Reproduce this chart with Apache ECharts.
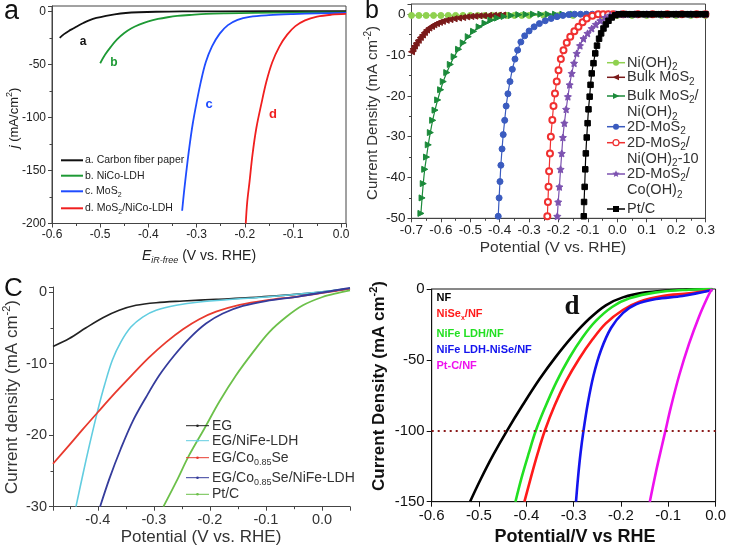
<!DOCTYPE html>
<html><head><meta charset="utf-8">
<script src="https://cdn.jsdelivr.net/npm/echarts@6/dist/echarts.min.js"></script>
<style>html,body{margin:0;padding:0;background:#fff}#c{width:729px;height:552px}</style>
</head><body><div id="c"></div><script>
// ---------- Panel a ----------
const aCarbon = [[-0.584,-25],[-0.575,-21.5],[-0.565,-18.5],[-0.555,-16],[-0.545,-13.3],[-0.535,-11],[-0.523,-8.6],[-0.508,-6.3],[-0.488,-4.2],[-0.47,-2.8],[-0.447,-1.6],[-0.42,-0.9],[-0.384,-0.4],[-0.33,-0.1],[-0.25,0],[0.01,0.2]];
const aNiCo = [[-0.5,-49],[-0.49,-41],[-0.478,-33.5],[-0.465,-26.5],[-0.45,-20.5],[-0.435,-16],[-0.419,-12.6],[-0.4,-9.5],[-0.38,-7.2],[-0.36,-5.6],[-0.34,-4.4],[-0.31,-3.3],[-0.28,-2.4],[-0.24,-1.9],[-0.18,-1.5],[-0.1,-1.2],[0.01,-1.0]];
const aMoS2 = [[-0.330,-188],[-0.326,-170],[-0.321,-150],[-0.315,-128],[-0.308,-106],[-0.300,-86],[-0.291,-66],[-0.281,-48],[-0.268,-33],[-0.252,-21],[-0.235,-13],[-0.215,-8],[-0.19,-5.2],[-0.15,-3.6],[-0.1,-2.6],[-0.05,-2],[0.01,-1.5]];
const aMoS2NiCo = [[-0.198,-200],[-0.195,-180],[-0.19,-160],[-0.184,-135],[-0.176,-110],[-0.166,-88],[-0.155,-66],[-0.143,-48],[-0.128,-33],[-0.112,-22],[-0.095,-14],[-0.075,-8.5],[-0.05,-5],[-0.02,-3.2],[0.01,-2.5]];

// ---------- Panel b ----------
const bNiOH2 = [[-0.7,-0.3],[-0.675,-0.3],[-0.65,-0.3],[-0.625,-0.3],[-0.6,-0.3],[-0.575,-0.3],[-0.55,-0.3],[-0.525,-0.3],[-0.5,-0.3],[-0.475,-0.3],[-0.45,-0.3],[-0.425,-0.3],[-0.4,-0.3],[-0.375,-0.3],[-0.35,-0.3],[-0.325,-0.3],[-0.3,-0.3],[-0.25,-0.3],[-0.2,-0.3],[-0.15,-0.3],[-0.1,-0.3],[-0.05,-0.3],[0,-0.3],[0.05,-0.3],[0.1,-0.3],[0.15,-0.3],[0.2,-0.3],[0.25,-0.3],[0.3,-0.3]];
const bBulkMoS2 = [[-0.7,-9.2],[-0.695,-8.5],[-0.69,-7.8],[-0.684,-7.1],[-0.677,-6.4],[-0.670,-5.7],[-0.663,-5.1],[-0.656,-4.5],[-0.649,-3.9],[-0.641,-3.4],[-0.632,-3.0],[-0.624,-2.6],[-0.615,-2.3],[-0.605,-2.0],[-0.595,-1.75],[-0.582,-1.5],[-0.569,-1.3],[-0.555,-1.1],[-0.54,-0.95],[-0.526,-0.8],[-0.512,-0.65],[-0.498,-0.55],[-0.485,-0.48],[-0.47,-0.4],[-0.455,-0.35],[-0.438,-0.3],[-0.421,-0.25],[-0.405,-0.22],[-0.39,-0.2]];
const bBulkMoS2NiOH2 = [[-0.668,-48.8],[-0.664,-45],[-0.660,-41.5],[-0.655,-38],[-0.649,-35],[-0.643,-32],[-0.636,-29],[-0.628,-26],[-0.620,-23.5],[-0.611,-21],[-0.601,-18.5],[-0.592,-16.5],[-0.580,-14.3],[-0.568,-12.3],[-0.555,-10.4],[-0.540,-8.6],[-0.524,-7],[-0.507,-5.5],[-0.489,-4.2],[-0.470,-3.1],[-0.450,-2.2],[-0.430,-1.5],[-0.408,-0.95],[-0.385,-0.55],[-0.36,-0.3],[-0.335,-0.12],[-0.31,-0.05],[-0.285,0],[-0.26,0],[-0.235,0],[-0.21,0],[-0.185,0],[-0.15,0],[-0.1,0],[-0.05,0],[0,0],[0.05,0],[0.1,0],[0.15,0],[0.2,0],[0.25,0],[0.3,0]];
const b2DMoS2 = [[-0.405,-49.5],[-0.402,-45],[-0.399,-41],[-0.396,-37],[-0.392,-33],[-0.388,-29.5],[-0.383,-26],[-0.378,-22.5],[-0.372,-19.5],[-0.365,-16.5],[-0.357,-13.5],[-0.348,-11],[-0.339,-8.8],[-0.328,-6.8],[-0.315,-5.3],[-0.300,-4.1],[-0.283,-3.1],[-0.265,-2.3],[-0.245,-1.6],[-0.225,-1.05],[-0.205,-0.6],[-0.185,-0.3],[-0.165,-0.1],[-0.145,0],[-0.125,0],[-0.105,0],[-0.085,0],[-0.065,0],[-0.03,0],[0.02,0],[0.07,0],[0.12,0],[0.17,0],[0.22,0],[0.27,0],[0.3,0]];
const b2DNiOH2 = [[-0.238,-49.5],[-0.236,-46],[-0.234,-42.3],[-0.232,-38.5],[-0.229,-34.1],[-0.226,-30],[-0.221,-25.9],[-0.217,-22.5],[-0.212,-19.4],[-0.206,-16.5],[-0.200,-13.7],[-0.192,-11],[-0.183,-8.8],[-0.172,-7],[-0.160,-5.5],[-0.146,-4.2],[-0.132,-3.1],[-0.118,-2],[-0.104,-1.06],[-0.085,-0.4],[-0.065,0],[-0.048,0],[-0.031,0],[-0.014,0],[0.02,0],[0.07,0],[0.12,0],[0.17,0],[0.22,0],[0.27,0],[0.3,0]];
const b2DCoOH2 = [[-0.204,-49.5],[-0.201,-46],[-0.197,-42.3],[-0.193,-38],[-0.189,-34.1],[-0.185,-30.2],[-0.180,-26.7],[-0.174,-23.3],[-0.168,-20.2],[-0.162,-17.3],[-0.155,-14.5],[-0.147,-12],[-0.138,-9.6],[-0.127,-7.7],[-0.115,-6.0],[-0.101,-4.7],[-0.087,-3.5],[-0.073,-2.5],[-0.058,-1.6],[-0.041,-0.8],[-0.024,-0.25],[-0.005,0],[0.012,0],[0.03,0],[0.06,0],[0.1,0],[0.15,0],[0.2,0],[0.25,0],[0.3,0]];
const bPtC = [[-0.114,-49.5],[-0.113,-46],[-0.111,-42.3],[-0.109,-38],[-0.107,-34.1],[-0.104,-30.2],[-0.101,-26.7],[-0.098,-23.3],[-0.094,-20.2],[-0.091,-17.3],[-0.087,-14.5],[-0.081,-12],[-0.075,-9.6],[-0.069,-7.7],[-0.062,-6.0],[-0.055,-4.7],[-0.047,-3.5],[-0.039,-2.5],[-0.030,-1.6],[-0.019,-0.8],[-0.007,-0.25],[0.005,0],[0.02,0],[0.035,0],[0.05,0],[0.065,0],[0.08,0],[0.095,0],[0.11,0],[0.125,0],[0.14,0],[0.155,0],[0.17,0],[0.185,0],[0.2,0],[0.215,0],[0.23,0],[0.245,0],[0.26,0],[0.275,0],[0.29,0],[0.3,0]];

// ---------- Panel c ----------
const cEG = [[-0.48,-7.6],[-0.451,-6.5],[-0.421,-5.0],[-0.391,-3.6],[-0.362,-2.56],[-0.332,-1.86],[-0.296,-1.49],[-0.248,-1.26],[-0.189,-1.02],[-0.129,-0.79],[-0.07,-0.47],[-0.01,-0.09],[0.05,0.47]];
const cNiFe = [[-0.439,-30],[-0.427,-25.6],[-0.415,-21.4],[-0.400,-16.5],[-0.388,-13.0],[-0.374,-9.5],[-0.359,-7.0],[-0.341,-4.9],[-0.320,-3.5],[-0.296,-2.56],[-0.260,-1.86],[-0.219,-1.40],[-0.159,-1.02],[-0.100,-0.70],[-0.040,-0.28],[0.05,0.47]];
const cCoSe = [[-0.48,-24],[-0.451,-21.4],[-0.427,-19.2],[-0.400,-16.8],[-0.368,-14.0],[-0.338,-11.5],[-0.308,-9.1],[-0.278,-7.0],[-0.248,-5.2],[-0.219,-3.8],[-0.189,-2.75],[-0.147,-1.8],[-0.100,-1.16],[-0.040,-0.60],[0.05,0.47]];
const cCoSeNiFe = [[-0.396,-30],[-0.379,-26.0],[-0.359,-21.9],[-0.338,-18.1],[-0.314,-14.7],[-0.290,-11.6],[-0.263,-8.8],[-0.237,-6.5],[-0.207,-4.4],[-0.177,-3.0],[-0.141,-1.95],[-0.100,-1.26],[-0.040,-0.60],[0.05,0.56]];
const cPtC = [[-0.283,-30],[-0.260,-26.5],[-0.237,-22.8],[-0.210,-19.1],[-0.183,-15.3],[-0.153,-11.6],[-0.123,-8.4],[-0.094,-5.6],[-0.064,-3.5],[-0.034,-1.86],[0.001,-0.70],[0.031,-0.09],[0.05,0.23]];

// ---------- Panel d ----------
const dNF = [[-0.519,-150],[-0.497,-134.5],[-0.470,-117],[-0.441,-100],[-0.407,-81.5],[-0.372,-63.5],[-0.337,-47.5],[-0.302,-33.2],[-0.267,-21],[-0.232,-11.5],[-0.196,-5.9],[-0.147,-2.4],[-0.077,-0.5],[-0.007,0]];
const dNiSe = [[-0.404,-150],[-0.390,-132.5],[-0.376,-116],[-0.361,-100],[-0.340,-82],[-0.316,-65],[-0.288,-49],[-0.260,-35.5],[-0.232,-24.2],[-0.196,-14.8],[-0.161,-8.9],[-0.112,-4.9],[-0.056,-3.1],[-0.007,-0.7]];
const dNiFe = [[-0.423,-150],[-0.410,-133],[-0.395,-116],[-0.380,-100],[-0.361,-84],[-0.337,-66],[-0.309,-48.5],[-0.281,-34],[-0.253,-22.5],[-0.218,-12.5],[-0.182,-6.6],[-0.126,-2.4],[-0.056,-0.5],[-0.007,0]];
const dNiFeNiSe = [[-0.295,-150],[-0.291,-134],[-0.2855,-116],[-0.279,-99.5],[-0.270,-80.5],[-0.258,-61],[-0.242,-43],[-0.221,-27.5],[-0.196,-17],[-0.168,-10.8],[-0.126,-7.1],[-0.070,-4.9],[-0.007,-0.7]];
const dPtC = [[-0.139,-150],[-0.126,-129],[-0.113,-110],[-0.106,-100],[-0.095,-84],[-0.077,-61],[-0.056,-38.5],[-0.035,-19.5],[-0.018,-6.5],[-0.008,0]];
const dRefLevel = -100;

// ---------- rendering ----------
const F = 'Liberation Sans, Arial, sans-serif';
const chart = echarts.init(document.getElementById('c'), null, {renderer:'canvas'});

function fmtDec(v){ const r = Math.round(v*10); return Math.abs(v*10 - r) < 1e-6 ? (r/10 === 0 ? '0.0' : (r/10).toFixed(1)) : ''; }
function fmtInt(step){ return v => Math.abs(v/step - Math.round(v/step)) < 1e-6 ? String(Math.round(v)) : ''; }

function ax(grid, min, max, opts){
  const o = Object.assign({color:'#333', size:12, family:F, fmt:null, interval:null, minor:2, tickLen:4, margin:5, labelColor:'#222', weight:'normal'}, opts||{});
  const a = {
    gridIndex:grid, type:'value', min, max,
    axisLine:{show:true, onZero:false, lineStyle:{color:o.color, width:1}},
    axisTick:{show:true, inside:false, length:o.tickLen, lineStyle:{color:o.color}},
    minorTick:{show:o.minor>0, splitNumber:o.minor||2, length:2.5, lineStyle:{color:o.color}},
    splitLine:{show:false}, minorSplitLine:{show:false},
    axisLabel:{color:o.labelColor, fontSize:o.size, fontFamily:o.family, fontWeight:o.weight, margin:o.margin, formatter:o.fmt}
  };
  if (o.interval) a.interval = o.interval; else a.splitNumber = 5;
  return a;
}

function line(xi, data, color, w, extra){
  return Object.assign({type:'line', xAxisIndex:xi, yAxisIndex:xi, data, showSymbol:false, symbol:'none',
    smooth:0.35, lineStyle:{color, width:w, join:'round'}, itemStyle:{color}, animation:false, silent:true}, extra||{});
}
function mline(data, color, symbol, extra){
  return Object.assign({type:'line', xAxisIndex:1, yAxisIndex:1, data, symbol, symbolSize:6, showSymbol:true, showAllSymbol:true,
    smooth:0.3, lineStyle:{color, width:1.2}, itemStyle:{color, borderColor:color, borderWidth:1}, animation:false, silent:true}, extra||{});
}
const starPath = 'path://M0,-10L2.9,-4L9.5,-3.1L4.7,1.5L5.9,8.1L0,5L-5.9,8.1L-4.7,1.5L-9.5,-3.1L-2.9,-4Z';

const cA = {k:'#111', g:'#1e9a35', b:'#1f4cff', r:'#f01f1f'};
const cB = {ni:'#8fd14f', bulk:'#7a1a1a', bulkNi:'#1b8a3a', mo:'#3a5bbf', moNi:'#f03030', moCo:'#7c52b0', pt:'#000'};
const cC = {eg:'#222', ni:'#62cde0', co:'#e83a2e', cn:'#353c9c', pt:'#6cc04a'};
const cD = {nf:'#000', nise:'#ff1a1a', nife:'#22e022', nn:'#1414ee', pt:'#ee11ee'};

function richSet(size, color, family, weight){
  const lh = Math.round(size*1.3), ss = Math.round(size*0.66);
  const base = {fontSize:size, fontFamily:family, fontWeight:weight, fill:color, color, lineHeight:lh};
  return {
    n: base,
    i: Object.assign({}, base, {fontStyle:'italic'}),
    s: {fontSize:ss, fontFamily:family, fontWeight:weight, fill:color, color, verticalAlign:'bottom', lineHeight:ss+1},
    si:{fontSize:ss, fontFamily:family, fontWeight:weight, fontStyle:'italic', fill:color, color, verticalAlign:'bottom', lineHeight:ss+1},
    p: {fontSize:ss, fontFamily:family, fontWeight:weight, fill:color, color, verticalAlign:'top', lineHeight:ss+1}
  };
}
function T(x, y, text, size, color, o){
  o = o || {};
  const fam = o.family || F, wt = o.weight || 'normal';
  return {type:'text', x, y, rotation:o.rot||0, z:100, silent:true,
    style:{text, rich:richSet(size, color, fam, wt), fill:color, fontSize:size, fontFamily:fam, fontWeight:wt,
      fontStyle:o.style||'normal', align:o.align||'left', verticalAlign:'middle'}};
}
function L(x1, y1, x2, y2, color, w){ return {type:'line', z:100, silent:true, shape:{x1,y1,x2,y2}, style:{stroke:color, lineWidth:w}}; }
function sym(kind, cx, cy, color){
  const r = 3;
  if (kind==='circle') return {type:'circle', z:101, silent:true, shape:{cx,cy,r}, style:{fill:color}};
  if (kind==='ecircle') return {type:'circle', z:101, silent:true, shape:{cx,cy,r}, style:{fill:'#fff', stroke:color, lineWidth:1.2}};
  if (kind==='rect') return {type:'rect', z:101, silent:true, shape:{x:cx-r,y:cy-r,width:2*r,height:2*r}, style:{fill:color}};
  if (kind==='triL') return {type:'polygon', z:101, silent:true, shape:{points:[[cx-r-0.5,cy],[cx+r,cy-r],[cx+r,cy+r]]}, style:{fill:color}};
  if (kind==='triR') return {type:'polygon', z:101, silent:true, shape:{points:[[cx+r+0.5,cy],[cx-r,cy-r],[cx-r,cy+r]]}, style:{fill:color}};
  if (kind==='star'){ const pts=[]; for(let k=0;k<10;k++){ const ang=-Math.PI/2+k*Math.PI/5, rr=k%2?1.7:3.8; pts.push([cx+rr*Math.cos(ang), cy+rr*Math.sin(ang)]);} return {type:'polygon', z:101, silent:true, shape:{points:pts}, style:{fill:color}}; }
  if (kind==='dot') return {type:'circle', z:101, silent:true, shape:{cx,cy,r:1.3}, style:{fill:color}};
}

const g = [];
g.push(T(4, 12, 'a', 27, '#111'));
g.push(T(365, 11, 'b', 25, '#111'));
g.push(T(4, 289, 'C', 26, '#111'));
g.push(T(83, 42, 'a', 12, cA.k, {weight:'bold', align:'center'}));
g.push(T(114, 63, 'b', 12, cA.g, {weight:'bold', align:'center'}));
g.push(T(209, 104, 'c', 13, cA.b, {weight:'bold', align:'center'}));
g.push(T(273, 114, 'd', 13, cA.r, {weight:'bold', align:'center'}));
[[160.3, cA.k, '{n|a. Carbon fiber paper}'],[175.7, cA.g, '{n|b. NiCo-LDH}'],[191.3, cA.b, '{n|c. MoS}{s|2}'],[208.3, cA.r, '{n|d. MoS}{s|2}{n|/NiCo-LDH}']].forEach(it => {
  g.push(L(61, it[0], 83, it[0], it[1], 2));
  g.push(T(85, it[0], it[2], 10.5, '#222'));
});
g.push(T(14, 118, '{i|j}{n| (mA/cm}{p|2}{n|)}', 13, '#222', {rot:Math.PI/2, align:'center'}));
g.push(T(199, 256, '{i|E}{si|iR-free}{n| (V vs. RHE)}', 14, '#222', {align:'center'}));

const bLeg = [
  [62.7, 'circle', cB.ni, ['{n|Ni(OH)}{s|2}']],
  [77.3, 'triL', cB.bulk, ['{n|Bulk MoS}{s|2}']],
  [96, 'triR', cB.bulkNi, ['{n|Bulk MoS}{s|2}{n|/}', '{n|Ni(OH)}{s|2}']],
  [126.7, 'circle', cB.mo, ['{n|2D-MoS}{s|2}']],
  [142.7, 'ecircle', cB.moNi, ['{n|2D-MoS}{s|2}{n|/}', '{n|Ni(OH)}{s|2}{n|-10}']],
  [174, 'star', cB.moCo, ['{n|2D-MoS}{s|2}{n|/}', '{n|Co(OH)}{s|2}']],
  [209, 'rect', cB.pt, ['{n|Pt/C}']]
];
bLeg.forEach(it => {
  g.push(L(607, it[0], 625, it[0], it[2], 1.5));
  g.push(sym(it[1], 616, it[0], it[2]));
  it[3].forEach((t, k) => g.push(T(627, it[0] + k*16.3, t, 14.5, '#333')));
});
g.push(T(373, 113, '{n|Current Density (mA cm}{p|-2}{n|)}', 15, '#333', {rot:Math.PI/2, align:'center'}));
g.push(T(553, 248, 'Potential (V vs. RHE)', 15.5, '#333', {align:'center'}));

[[425.7, cC.eg, '{n|EG}'],[440.7, cC.ni, '{n|EG/NiFe-LDH}'],[457.7, cC.co, '{n|EG/Co}{s|0.85}{n|Se}'],[477.7, cC.cn, '{n|EG/Co}{s|0.85}{n|Se/NiFe-LDH}'],[494.3, cC.pt, '{n|Pt/C}']].forEach(it => {
  g.push(L(186, it[0], 209, it[0], it[1], 1));
  g.push(sym('dot', 197.5, it[0], it[1]));
  g.push(T(212, it[0], it[2], 14, '#333'));
});
g.push(T(12, 397, '{n|Current density (mA cm}{p|-2}{n|)}', 17, '#333', {rot:Math.PI/2, align:'center'}));
g.push(T(201, 537, 'Potential (V vs. RHE)', 17, '#333', {align:'center'}));

[[297.7, cD.nf, '{n|NF}'],[314.3, cD.nise, '{n|NiSe}{s|x}{n|/NF}'],[334.3, cD.nife, '{n|NiFe LDH/NF}'],[350, cD.nn, '{n|NiFe LDH-NiSe/NF}'],[366, cD.pt, '{n|Pt-C/NF}']].forEach(it => {
  g.push(T(436.5, it[0], it[2], 11, it[1], {weight:'bold'}));
});
g.push(T(572, 307, 'd', 27, '#111', {family:'Liberation Serif, serif', weight:'bold', align:'center'}));
g.push(T(379, 386, '{n|Current Density (mA cm}{p|-2}{n|)}', 17, '#111', {rot:Math.PI/2, align:'center', weight:'bold'}));
g.push(T(575, 537, 'Potential/V vs RHE', 18, '#111', {align:'center', weight:'bold'}));

const option = {
  backgroundColor:'#fff', animation:false,
  grid:[
    {left:52, top:6, width:294, height:217.5, show:true, borderColor:'#444', borderWidth:1, backgroundColor:'transparent'},
    {left:411.5, top:4, width:294, height:214.3, show:true, borderColor:'#444', borderWidth:1, backgroundColor:'transparent'},
    {left:53, top:287, width:297, height:219.7, show:false},
    {left:431.7, top:289, width:285.5, height:212.7, show:true, borderColor:'#111', borderWidth:1, backgroundColor:'transparent'}
  ],
  xAxis:[
    ax(0, -0.6, 0.01, {interval:0.1, fmt:fmtDec, size:12, color:'#444', margin:5}),
    ax(1, -0.7, 0.3, {interval:0.1, fmt:fmtDec, size:13.5, color:'#444', margin:5}),
    ax(2, -0.48, 0.05, {fmt:fmtDec, size:14.5, color:'#444', margin:6, labelColor:'#333'}),
    ax(3, -0.6, 0, {interval:0.1, fmt:fmtDec, size:15, color:'#111', minor:0, tickLen:5, margin:7, labelColor:'#111'})
  ],
  yAxis:[
    ax(0, -200, 5, {interval:50, fmt:fmtInt(50), size:12, color:'#444', margin:6}),
    ax(1, -50, 2.5, {interval:10, fmt:fmtInt(10), size:13.5, color:'#444', margin:6}),
    ax(2, -30, 0.7, {interval:10, fmt:fmtInt(10), size:14.5, color:'#444', margin:6, labelColor:'#333'}),
    ax(3, -150, 0, {interval:50, fmt:fmtInt(50), size:15, color:'#111', minor:0, tickLen:5, margin:7, labelColor:'#111'})
  ],
  graphic:g,
  series:[
    line(0, aCarbon, cA.k, 1.8),
    line(0, aNiCo, cA.g, 1.8),
    line(0, aMoS2, cA.b, 1.8),
    line(0, aMoS2NiCo, cA.r, 1.8),

    mline(bNiOH2, cB.ni, 'circle'),
    mline(bBulkMoS2, cB.bulk, 'triangle', {symbolRotate:90}),
    mline(bBulkMoS2NiOH2, cB.bulkNi, 'triangle', {symbolRotate:-90}),
    mline(b2DMoS2, cB.mo, 'circle'),
    mline(b2DNiOH2, cB.moNi, 'emptyCircle', {itemStyle:{color:cB.moNi, borderColor:cB.moNi, borderWidth:1.3}}),
    mline(b2DCoOH2, cB.moCo, starPath, {symbolSize:7}),
    mline(bPtC, cB.pt, 'rect', {symbolSize:5.5}),

    line(2, cEG, cC.eg, 1.6),
    line(2, cNiFe, cC.ni, 1.6),
    line(2, cCoSe, cC.co, 1.8),
    line(2, cCoSeNiFe, cC.cn, 1.8),
    line(2, cPtC, cC.pt, 1.8),

    line(3, dNF, cD.nf, 2.6, {markLine:{silent:true, symbol:'none', label:{show:false}, lineStyle:{type:[2,4], color:'#8b1a1a', width:2}, data:[{yAxis:dRefLevel}]}}),
    line(3, dNiFe, cD.nife, 2.6),
    line(3, dNiSe, cD.nise, 2.6),
    line(3, dNiFeNiSe, cD.nn, 2.6),
    line(3, dPtC, cD.pt, 2.6)
  ]
};
chart.setOption(option);
</script></body></html>
